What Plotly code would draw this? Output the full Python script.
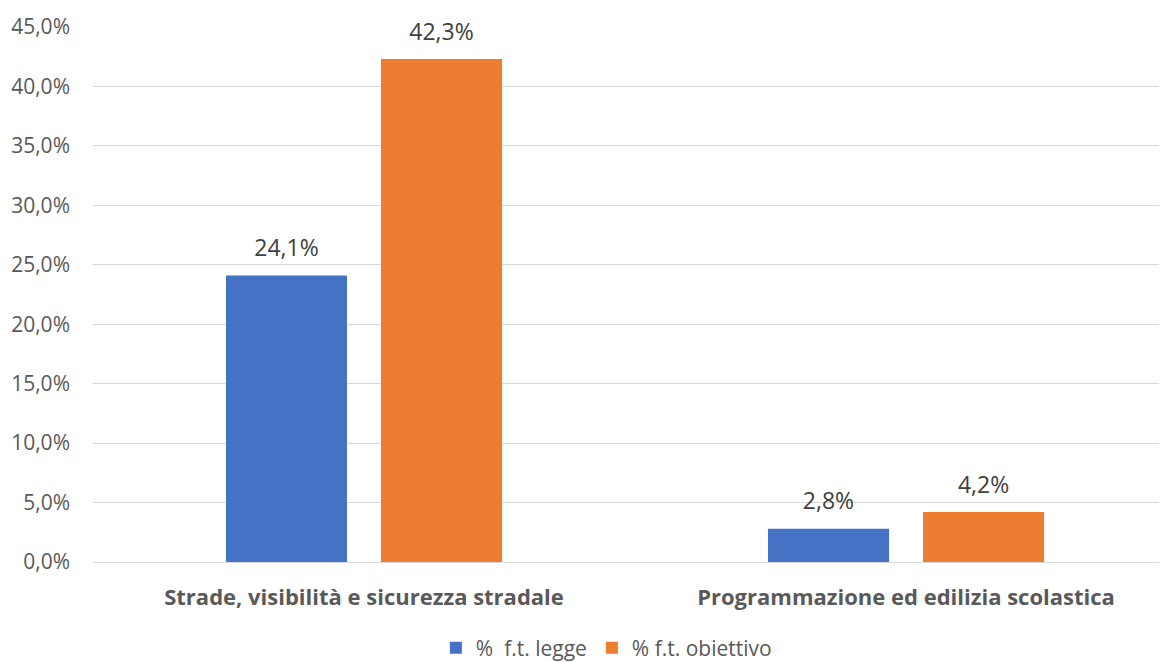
import plotly.graph_objects as go

categories = ["Strade, visibilità e sicurezza stradale", "Programmazione ed edilizia scolastica"]
series_names = ["%  f.t. legge", "% f.t. obiettivo"]
legge = [0.241, 0.028]
obiettivo = [0.423, 0.042]
tick_vals = [0, 0.05, 0.10, 0.15, 0.20, 0.25, 0.30, 0.35, 0.40, 0.45]

colors = ["#4472C4", "#ED7D31"]
FONT = "Open Sans"
GAP = 0.428

fig = go.Figure()
for i, (name, vals, col) in enumerate(zip(series_names, [legge, obiettivo], colors)):
    fig.add_trace(go.Bar(
        x=categories, y=vals, name=name, offsetgroup=str(i),
        marker=dict(color=col, line=dict(width=0)),
        hovertemplate="%{y:.1%}<extra></extra>",
    ))
for i, vals in enumerate([legge, obiettivo]):
    fig.add_trace(go.Scatter(
        x=categories, y=vals, mode="markers+text", offsetgroup=str(i),
        text=[f"{v*100:.1f}%".replace(".", ",") for v in vals],
        textposition="top center",
        textfont=dict(family=FONT, size=23, color="#404040"),
        marker=dict(size=20, opacity=0),
        showlegend=False, hoverinfo="skip", cliponaxis=False,
    ))

fig.update_layout(
    width=1159, height=654,
    margin=dict(l=85, r=0, t=19, b=100, autoexpand=False),
    paper_bgcolor="white", plot_bgcolor="white",
    separators=",.",
    barmode="group", scattermode="group", scattergap=GAP,
    bargap=GAP, bargroupgap=0.219,
    font=dict(family=FONT, color="#595959"),
    legend=dict(orientation="h", x=0.478, xanchor="center", y=-0.161, yanchor="middle",
                font=dict(family=FONT, size=21, color="#595959"),
                itemwidth=30, traceorder="normal"),
    xaxis=dict(range=[-0.5, 1.4815], showgrid=False, showline=False, zeroline=False,
               ticks="", ticklabelstandoff=20,
               tickfont=dict(family=FONT, size=22, color="#595959", weight="bold")),
    yaxis=dict(range=[0, 0.45], tickvals=tick_vals, tickformat=".1%",
               showgrid=True, gridcolor="#D9D9D9", gridwidth=1.3,
               zeroline=True, zerolinecolor="#D9D9D9", zerolinewidth=1.3,
               showline=False, ticks="", ticklabelstandoff=22,
               tickfont=dict(family=FONT, size=21, color="#595959")),
)

fig.write_html("out.html")
